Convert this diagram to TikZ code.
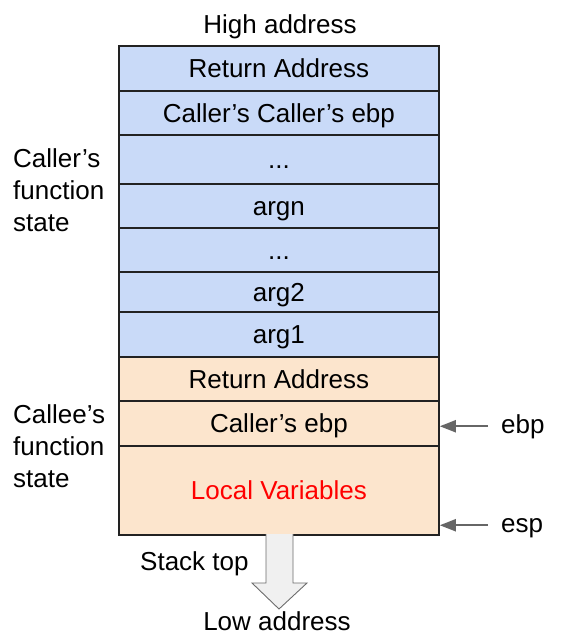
\documentclass[tikz,border=0pt]{standalone}
\usepackage{fontspec}
\setmainfont{Liberation Sans}
\usetikzlibrary{arrows.meta}
\definecolor{callerblue}{HTML}{C9DAF8}
\definecolor{calleeorange}{HTML}{FCE5CD}
\definecolor{pointergray}{HTML}{666666}
\definecolor{bordergray}{HTML}{222222}
\begin{document}
\begin{tikzpicture}[x=1pt,y=-1pt,
  every node/.style={font=\fontsize{26}{32}\selectfont, inner sep=0pt},
  cell/.style={draw=bordergray, line width=1.8pt, minimum width=320pt, anchor=north west,
    text height=18.6pt, text depth=0pt},
  blue/.style={cell, fill=callerblue},
  orange/.style={cell, fill=calleeorange},
  ptr/.style={draw=pointergray, line width=2pt, -{Triangle[length=16pt,width=12pt]}},
  plabel/.style={anchor=base west, inner xsep=13pt, text height=13.5pt, text depth=0pt},
  sidelabel/.style={anchor=north west, align=left}]
\useasboundingbox (0,0) rectangle (562,641);
% caller rows
\node[blue, minimum height=45pt] (r1) at (118,45) {Return Address};
\node[blue, minimum height=44pt] (r2) at (118,90) {Caller’s Caller’s ebp};
\node[blue, minimum height=49pt] (r3) at (118,134) {...};
\node[blue, minimum height=44pt] (r4) at (118,183) {argn};
\node[blue, minimum height=44pt] (r5) at (118,227) {...};
\node[blue, minimum height=40pt] (r6) at (118,271) {arg2};
\node[blue, minimum height=45pt] (r7) at (118,311) {arg1};
% callee rows
\node[orange, minimum height=44pt] (r8) at (118,356) {Return Address};
\node[orange, minimum height=45pt] (r9) at (118,400) {Caller’s ebp};
\node[orange, minimum height=89pt, text=red] (r10) at (118,445) {Local Variables};
% titles
\node[anchor=base] (high) at (280,33) {High address};
\node[anchor=base] (low) at (277,630) {Low address};
\node[anchor=base west] (stacktop) at (140,570) {Stack top};
% side labels
\node[sidelabel] (callerlbl) at (13,148) {Caller’s\\function\\state};
\node[sidelabel] (calleelbl) at (13,404) {Callee’s\\function\\state};
% pointers
\node[plabel] (ebp) at (488,433) {ebp};
\node[plabel] (esp) at (488,532) {esp};
\draw[ptr] (ebp.west) -- (ebp.west -| r9.east);
\draw[ptr] (esp.west) -- (esp.west -| r10.east);
% stack growth arrow
\draw[draw=gray!85!black, fill=gray!12, line width=0.9pt, line join=miter]
  (266,534) -- (266,583) -- (252,583) -- (279,609) -- (307,583) -- (293,583) -- (293,534);
\end{tikzpicture}
\end{document}
